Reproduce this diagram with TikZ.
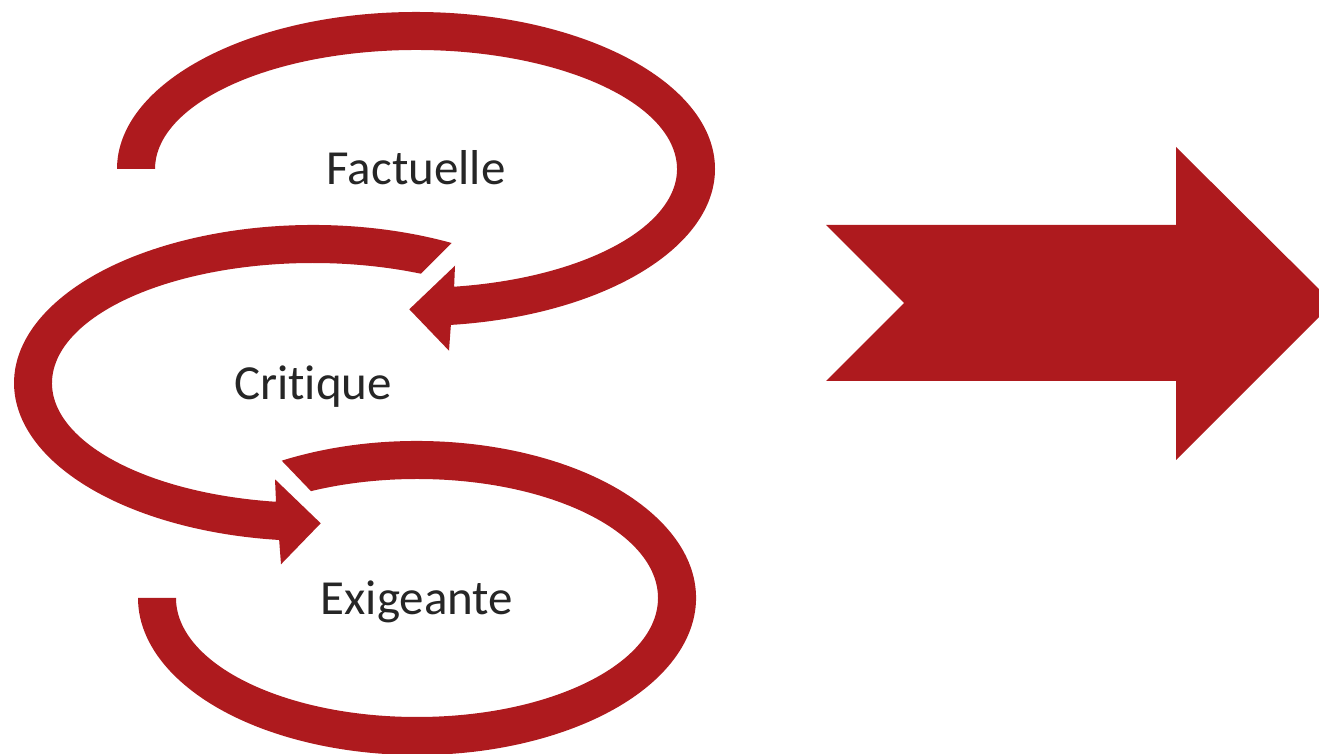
\documentclass[tikz,border=0pt]{standalone}
\usepackage{fontspec}
\setmainfont{Carlito}[Ligatures={NoCommon,NoContextual}]
\usetikzlibrary{calc}
\definecolor{arrred}{HTML}{AE1A1E}
\definecolor{txtgray}{HTML}{262626}
\begin{document}
\begin{tikzpicture}[x=1pt,y=1pt,
  band/.style={fill=arrred, draw=none},
  lbl/.style={font=\fontsize{49}{59}\selectfont, text=txtgray, anchor=base, inner sep=0pt}]
\clip (0,0) rectangle (1319,754);
% Arc 1 (Factuelle), centre (416,585)
\fill[band] (117,585) arc[start angle=180, end angle=-83.3, x radius=299, y radius=157]
  -- (449,403.3) -- (409.3,444.7) -- (455,488.3)
  -- ([shift={(416,585)}]-81.6:261 and 119)
  arc[start angle=-81.6, end angle=180, x radius=261, y radius=119] -- cycle;
% Arc 2 (Critique), centre (313,371)
\fill[band] ([shift={(313,371)}]62.4:299 and 158)
  arc[start angle=62.4, end angle=263.5, x radius=299, y radius=158]
  -- (281,189.7) -- (320.7,230.7) -- (275,274.7)
  -- ([shift={(313,371)}]261.85:261 and 120)
  arc[start angle=261.85, end angle=65.6, x radius=261, y radius=120] -- cycle;
% Arc 3 (Exigeante), centre (417,156)
\fill[band] ([shift={(417,156)}]119:279 and 157)
  arc[start angle=119, end angle=-180, x radius=279, y radius=157]
  -- ([shift={(417,156)}]180:241 and 119)
  arc[start angle=-180, end angle=116.1, x radius=241, y radius=119] -- cycle;
% Big block arrow
\fill[band] (826,529) -- (1176,529) -- (1176,607) -- (1333,451) -- (1176,294)
  -- (1176,373) -- (826,373) -- (904,451) -- cycle;
% Labels
\node[lbl] (factuelle) at (416,569) {Factuelle};
\node[lbl] (critique) at (313,354.7) {Critique};
\node[lbl] (exigeante) at (417,139) {Exigeante};
\end{tikzpicture}
\end{document}
